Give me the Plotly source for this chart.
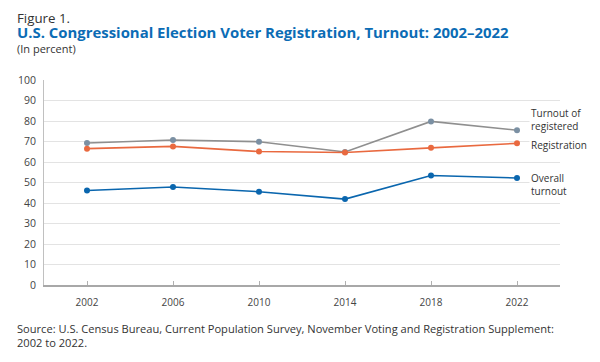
import plotly.graph_objects as go

years = ["2002", "2006", "2010", "2014", "2018", "2022"]
turnout_registered = [69.3, 70.7, 69.9, 64.9, 79.8, 75.5]
registration = [66.5, 67.6, 65.1, 64.6, 66.9, 69.1]
overall_turnout = [46.1, 47.8, 45.5, 41.9, 53.4, 52.2]
y_ticks = [0, 10, 20, 30, 40, 50, 60, 70, 80, 90, 100]

FONT = "Open Sans"
GRAY_LINE = "#8f8f8f"
GRAY_MARK = "#7b90a3"
ORANGE = "#e9693f"
BLUE = "#0a66ae"

fig = go.Figure()
fig.add_trace(go.Scatter(x=years, y=turnout_registered, mode="lines+markers",
                         line=dict(color=GRAY_LINE, width=1.6),
                         marker=dict(color=GRAY_MARK, size=6), name="Turnout of registered"))
fig.add_trace(go.Scatter(x=years, y=registration, mode="lines+markers",
                         line=dict(color=ORANGE, width=1.6),
                         marker=dict(color=ORANGE, size=6), name="Registration"))
fig.add_trace(go.Scatter(x=years, y=overall_turnout, mode="lines+markers",
                         line=dict(color=BLUE, width=1.6),
                         marker=dict(color=BLUE, size=6), name="Overall turnout"))

# page body adds an 8px offset, so the figure is 592x354
fig.update_layout(
    width=592, height=354,
    margin=dict(l=36, r=40, t=72, b=77, pad=0),
    paper_bgcolor="white", plot_bgcolor="white",
    showlegend=False,
    font=dict(family=FONT, size=11, color="#444444"),
)
fig.update_xaxes(
    type="category", range=[-0.5, 5.5], automargin=False,
    showline=True, linecolor="#a8a8a8", linewidth=1.5,
    ticks="inside", ticklen=4, tickcolor="#b0b0b0",
    ticklabelstandoff=7,
    showgrid=False, tickfont=dict(size=10, color="#444444"),
)
fig.update_yaxes(
    range=[0, 100], tickvals=y_ticks, automargin=False,
    showline=True, linecolor="#c0c0c0", linewidth=1,
    showgrid=True, gridcolor="#e3e3e3", gridwidth=1,
    zeroline=False, ticks="", ticklabelstandoff=5,
    tickfont=dict(size=10.5, color="#444444"),
)

LX = -0.056
# Title block (three lines in one text)
title_text = (
    '<span style="font-size:13.3px;color:#333333">Figure 1.</span><br>'
    '<span style="font-size:14.9px;color:#0b6cb5"><b>U.S. Congressional Election Voter Registration, Turnout: 2002–2022</b></span><br>'
    '<span style="font-size:11px;color:#333333">(In percent)</span>'
)
fig.add_annotation(xref="paper", yref="paper", x=LX, y=1.0, yshift=47.5,
                   xanchor="left", yanchor="middle", showarrow=False, align="left",
                   text=title_text, font=dict(size=11.5, color="#333333", family=FONT))
fig.add_annotation(xref="paper", yref="paper", x=LX, y=0.0, yshift=-34,
                   xanchor="left", yanchor="top", showarrow=False, align="left",
                   text="Source: U.S. Census Bureau, Current Population Survey, November Voting and Registration Supplement:<br>2002 to 2022.",
                   font=dict(size=11.1, color="#333333", family=FONT))

# Series labels
lab = dict(xref="paper", yref="y", xanchor="left", showarrow=False, align="left",
           bgcolor="white", font=dict(size=10, color="#333333", family=FONT))
fig.add_annotation(x=0.94, y=turnout_registered[-1], yshift=-5,
                   yanchor="bottom", text="Turnout of<br>registered", **lab)
fig.add_annotation(x=0.94, y=registration[-1], yshift=-2,
                   yanchor="middle", text="Registration", **lab)
fig.add_annotation(x=0.94, y=overall_turnout[-1], yshift=9,
                   yanchor="top", text="Overall<br>turnout", **lab)

# faint page border on the right
fig.add_shape(type="line", xref="paper", yref="paper", x0=1.0736, x1=1.0736, y0=-0.4, y1=1.4,
              line=dict(color="#dfe4ea", width=1))

fig.write_html("out.html")
